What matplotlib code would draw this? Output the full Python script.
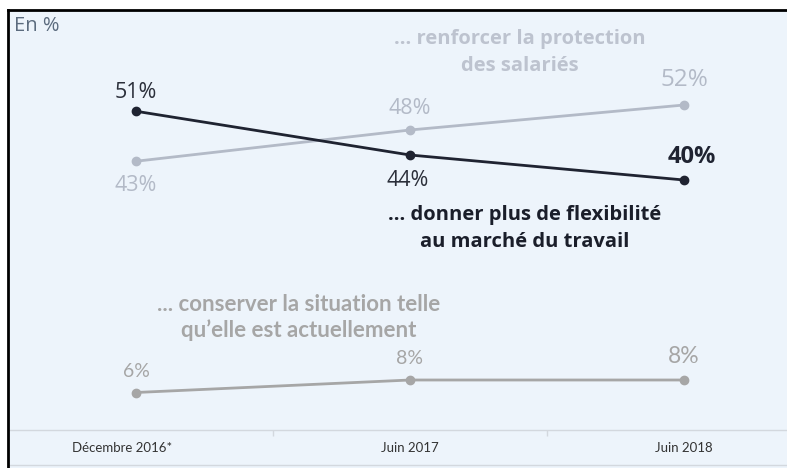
import matplotlib.pyplot as plt
import matplotlib.transforms as mtransforms

# Donnees
periodes = ["Décembre 2016*", "Juin 2017", "Juin 2018"]
flexibilite = [51, 44, 40]
protection = [43, 48, 52]
conserver = [6, 8, 8]

bg = "#EDF4FB"
c_dark = "#1F2331"
c_light = "#B3BAC7"
c_gray = "#A6A6A6"

fig = plt.figure(figsize=(7.87, 4.68), dpi=100, facecolor="w")
ax = fig.add_axes([8 / 787, 0, 779 / 787, 458 / 468], facecolor=bg)

x = range(len(periodes))
ax.plot(x, protection, color=c_light, lw=2, marker="o", ms=6, zorder=2)
ax.plot(x, flexibilite, color=c_dark, lw=2, marker="o", ms=6, zorder=3)
ax.plot(x, conserver, color=c_gray, lw=2, marker="o", ms=6, zorder=2)

ax.set_xlim(-0.467, 2.376)
ax.set_ylim(-6.08, 67.2)

# axe du bas et separateurs
ax.axhline(0, color="#D3D8DE", lw=1)
ax.vlines([0.5, 1.5], -1, 0, color="#D3D8DE", lw=1)
ax.plot([0, 1], [0.007, 0.007], transform=ax.transAxes, color="#D3D8DE", lw=1)

for s in ["right", "bottom"]:
    ax.spines[s].set_visible(False)
ax.spines["left"].set_color("k")
ax.spines["top"].set_color("k")
ax.spines["left"].set_linewidth(2)
ax.spines["top"].set_linewidth(2)
ax.set_xticks([])
ax.set_yticks([])

trans = mtransforms.blended_transform_factory(ax.transData, ax.transAxes)
for i, p in enumerate(periodes):
    ax.text(i - (0.05 if i == 0 else 0), 0.044, p, transform=trans, ha="center", va="center",
            fontsize=9.5, family="Lato", color="#333333")

ax.text(0.008, 0.965, "En %", transform=ax.transAxes, ha="left", va="center",
        fontsize=14.5, family="Open Sans", color="#5B6B7E")

# etiquettes des valeurs
ax.text(0, 51 + 3, "51%", ha="center", va="center", fontsize=15.5, family="Open Sans", color="#2B2F3A")
ax.text(0.99, 44 - 4, "44%", ha="center", va="center", fontsize=15.5, family="Open Sans", color="#2B2F3A")
ax.text(2.03, 40 + 3.7, "40%", ha="center", va="center", fontsize=17, family="Open Sans",
        weight="bold", color="#1F2331")
ax.text(0, 43 - 3.9, "43%", ha="center", va="center", fontsize=15.5, family="Open Sans", color=c_light)
ax.text(1, 48 + 3.5, "48%", ha="center", va="center", fontsize=15.5, family="Open Sans", color=c_light)
ax.text(2, 52 + 4, "52%", ha="center", va="center", fontsize=17.5, family="Open Sans", color=c_light)
ax.text(0, 6 + 3.4, "6%", ha="center", va="center", fontsize=14, family="Lato", color=c_gray)
ax.text(1, 8 + 3.5, "8%", ha="center", va="center", fontsize=14, family="Lato", color=c_gray)
ax.text(2, 8 + 3.7, "8%", ha="center", va="center", fontsize=16.5, family="Lato", color=c_gray)

# noms des series
ax.text(1.40, 60.4, "... renforcer la protection\ndes salariés", ha="center", va="center",
        fontsize=14.5, family="Open Sans", weight="bold", color="#BDC3CF", linespacing=1.42)
ax.text(1.42, 32.2, "... donner plus de flexibilité\nau marché du travail", ha="center", va="center",
        fontsize=14.5, family="Open Sans", weight="bold", color="#1A1E2A", linespacing=1.5)
ax.text(0.595, 18.0, "... conserver la situation telle\nqu\u2019elle est actuellement", ha="center",
        va="center", fontsize=16, family="Lato", weight="bold", color=c_gray, linespacing=1.23)

fig.savefig("out.png", dpi=100)
